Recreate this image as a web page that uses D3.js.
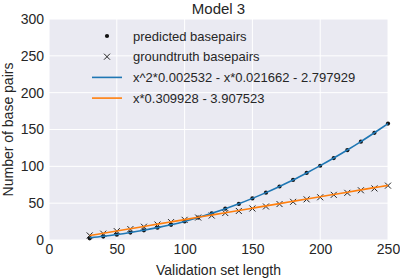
<!DOCTYPE html>
<html>
<head>
<meta charset="utf-8">
<script src="https://cdn.jsdelivr.net/npm/d3@7"></script>
<style>
  body { margin: 0; background: #fff; }
  svg { font-family: "Liberation Sans", Arial, sans-serif; }
</style>
</head>
<body>
<div id="chart"></div>
<script>
// data
const lengths = [30, 40, 50, 60, 70, 80, 90, 100, 110, 120, 130, 140, 150,
    160, 170, 180, 190, 200, 210, 220, 230, 240, 250];
const predicted = [2.3, 4.6, 7.2, 10.1, 13.2, 16.6, 20.6, 25.2, 30.4, 36.2, 42.5, 49.0, 56.5,
    64.2, 72.6, 81.5, 91.0, 100.8, 111.2, 122.0, 133.5, 145.5, 158.0];
const groundtruth = [6.2, 8.6, 12.0, 14.8, 18.0, 21.0, 24.3, 27.4, 30.5, 33.2, 36.6, 39.4, 42.8,
    45.5, 48.8, 51.8, 55.2, 58.0, 61.3, 64.0, 67.5, 70.0, 73.8];
const fitBlue = [3.0, 5.0, 7.4, 10.2, 13.3, 16.8, 20.7, 25.2, 30.4, 36.2, 42.5, 49.2, 56.5,
    64.3, 72.7, 81.5, 91.0, 100.9, 111.3, 122.2, 133.6, 145.6, 158.0];
const fitOrange = [6.0, 9.1, 12.2, 15.3, 18.4, 21.5, 24.6, 27.7, 30.8, 33.9, 37.0, 40.1, 43.2,
    46.3, 49.4, 52.5, 55.6, 58.7, 61.8, 64.9, 68.0, 71.1, 74.2];
const xTicks = [0, 50, 100, 150, 200, 250];
const yTicks = [0, 50, 100, 150, 200, 250, 300];
const legendLabels = ["predicted basepairs", "groundtruth basepairs",
    "x^2*0.002532 - x*0.021662 - 2.797929", "x*0.309928 - 3.907523"];

const width = 400, height = 279;
const margin = {top: 19, right: 12, bottom: 39, left: 49};
const w = width - margin.left - margin.right;
const h = height - margin.top - margin.bottom;

const svg = d3.select("#chart").append("svg")
    .attr("width", width)
    .attr("height", height);

const g = svg.append("g")
    .attr("transform", "translate(" + margin.left + "," + margin.top + ")");

const x = d3.scaleLinear().domain([0, 250]).range([0, w]);
const y = d3.scaleLinear().domain([0, 300]).range([h, 0]);

g.append("rect")
    .attr("width", w)
    .attr("height", h)
    .attr("fill", "#eaeaf2");

// grid
g.selectAll(".vgrid").data(xTicks).enter().append("line")
    .attr("x1", d => x(d)).attr("x2", d => x(d))
    .attr("y1", 0).attr("y2", h)
    .attr("stroke", "#fff").attr("stroke-width", 1);
g.selectAll(".hgrid").data(yTicks).enter().append("line")
    .attr("y1", d => y(d)).attr("y2", d => y(d))
    .attr("x1", 0).attr("x2", w)
    .attr("stroke", "#fff").attr("stroke-width", 1);

// axes (labels only, no lines)
const xAxis = g.append("g")
    .attr("transform", "translate(0," + h + ")")
    .call(d3.axisBottom(x).tickValues(xTicks).tickSize(0).tickPadding(4));
const yAxis = g.append("g")
    .call(d3.axisLeft(y).tickValues(yTicks).tickSize(0).tickPadding(5));
[xAxis, yAxis].forEach(a => {
    a.select(".domain").remove();
    a.selectAll("text")
        .attr("fill", "#262626")
        .style("font-size", "14px")
        .style("font-family", "Liberation Sans, Arial, sans-serif");
});

// markers
const pts = lengths.map((d, i) => ({x: d, p: predicted[i], t: groundtruth[i]}));

g.selectAll(".dot").data(pts).enter().append("circle")
    .attr("cx", d => x(d.x))
    .attr("cy", d => y(d.p))
    .attr("r", 2.1)
    .attr("fill", "#111");

const cross = 3;
const xs = g.selectAll(".cross").data(pts).enter().append("path")
    .attr("d", d => {
        const cx = x(d.x), cy = y(d.t);
        return "M" + (cx - cross) + "," + (cy - cross) + "L" + (cx + cross) + "," + (cy + cross) +
            "M" + (cx - cross) + "," + (cy + cross) + "L" + (cx + cross) + "," + (cy - cross);
    })
    .attr("stroke", "#222")
    .attr("stroke-width", 1);

// fitted lines
const line = d3.line().curve(d3.curveCatmullRom);
g.append("path")
    .attr("d", line(lengths.map((d, i) => [x(d), y(fitBlue[i])])))
    .attr("fill", "none")
    .attr("stroke", "#1f77b4")
    .attr("stroke-width", 1.6);
g.append("path")
    .attr("d", line(lengths.map((d, i) => [x(d), y(fitOrange[i])])))
    .attr("fill", "none")
    .attr("stroke", "#ff7f0e")
    .attr("stroke-width", 1.6);

// legend
const legend = svg.append("g").attr("transform", "translate(92,36)");
const rowH = 20.7;
legendLabels.forEach((label, i) => {
    const row = legend.append("g").attr("transform", "translate(0," + (i * rowH) + ")");
    if (i === 0) {
        row.append("circle").attr("cx", 15).attr("cy", 0).attr("r", 2.1).attr("fill", "#111");
    } else if (i === 1) {
        row.append("path")
            .attr("d", "M12,-3L18,3M12,3L18,-3")
            .attr("stroke", "#222").attr("stroke-width", 1);
    } else {
        row.append("line")
            .attr("x1", 0).attr("x2", 30).attr("y1", 0).attr("y2", 0)
            .attr("stroke", i === 2 ? "#1f77b4" : "#ff7f0e")
            .attr("stroke-width", 1.6);
    }
    row.append("text")
        .attr("x", 41)
        .attr("y", 4.6)
        .attr("fill", "#262626")
        .style("font-size", "13px")
        .text(label);
});

// titles
svg.append("text")
    .attr("x", margin.left + w / 2)
    .attr("y", 14)
    .attr("text-anchor", "middle")
    .attr("fill", "#262626")
    .style("font-size", "15px")
    .text("Model 3");

svg.append("text")
    .attr("x", margin.left + w / 2)
    .attr("y", 275)
    .attr("text-anchor", "middle")
    .attr("fill", "#262626")
    .style("font-size", "14px")
    .text("Validation set length");

svg.append("text")
    .attr("transform", "translate(13," + (margin.top + h / 2) + ") rotate(-90)")
    .attr("text-anchor", "middle")
    .attr("fill", "#262626")
    .style("font-size", "14px")
    .text("Number of base pairs");
</script>
</body>
</html>
